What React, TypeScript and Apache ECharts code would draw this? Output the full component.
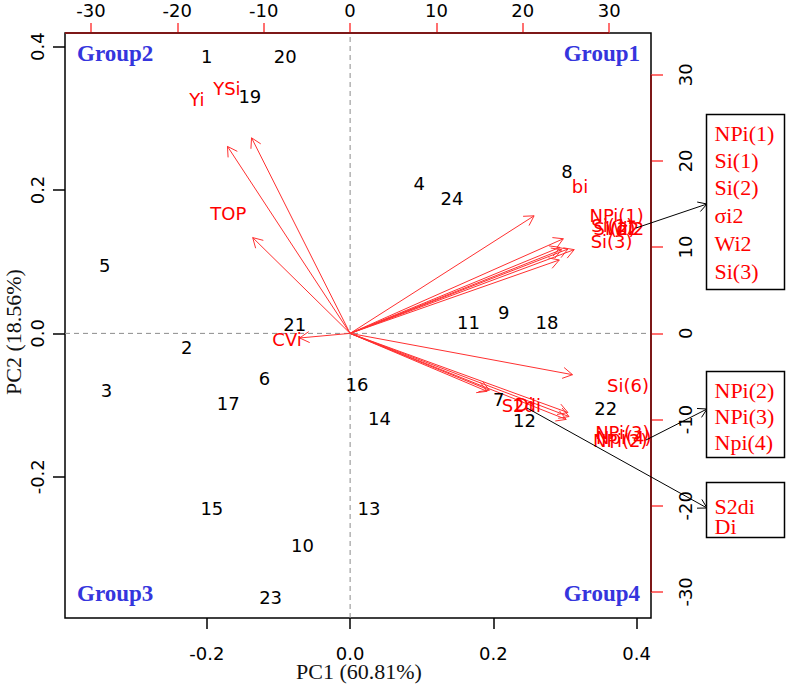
import React, { useEffect, useRef } from "react";
import * as echarts from "echarts";

// ---- Data ----
const sampleIds = ["1","2","3","4","5","6","7","8","9","10","11","12","13","14","15","16","17","18","19","20","21","22","23","24"];
const samplePC1 = [-16.6,-18.9,-28.2,8.0,-28.4,-9.9,17.2,25.1,17.8,-5.5,13.7,20.2,2.2,3.4,-16.0,0.8,-14.1,22.8,-11.6,-7.5,-6.4,29.6,-9.2,11.8];
const samplePC2 = [32.1,-1.6,-6.6,17.4,7.9,-5.2,-7.7,18.8,2.4,-24.6,1.2,-10.1,-20.3,-9.9,-20.3,-5.9,-8.2,1.2,27.5,32.1,1.0,-8.7,-30.6,15.6];

const varNames = ["Yi","YSi","TOP","CVi","bi","NPi(1)","Si(1)","Si(2)","σi2","Wi2","Si(3)","Si(6)","NPi(2)","NPi(3)","Npi(4)","S2di","Di"];
const varPC1 = [-0.214,-0.172,-0.170,-0.088,0.321,0.372,0.366,0.369,0.391,0.380,0.365,0.388,0.377,0.380,0.382,0.239,0.243];
const varPC2 = [0.326,0.341,0.167,-0.008,0.205,0.165,0.150,0.146,0.146,0.147,0.128,-0.072,-0.150,-0.138,-0.145,-0.101,-0.099];
const arrowScale = 0.8;

const bottomTicks = [-0.2, 0, 0.2, 0.4];
const leftTicks = [-0.2, 0, 0.2, 0.4];
const topTicks = [-30, -20, -10, 0, 10, 20, 30];
const rightTicks = [-30, -20, -10, 0, 10, 20, 30];

const xRange = [-0.398, 0.42];
const yRange = [-0.397, 0.419];
const x2Range = [-33.0, 34.84];
const y2Range = [-33.03, 34.84];

const xTitle = "PC1 (60.81%)";
const yTitle = "PC2 (18.56%)";
const groupLabels = ["Group1", "Group2", "Group3", "Group4"];
const box1Items = ["NPi(1)", "Si(1)", "Si(2)", "σi2", "Wi2", "Si(3)"];
const box2Items = ["NPi(2)", "NPi(3)", "Npi(4)"];
const box3Items = ["S2di", "Di"];

const SANS = "DejaVu Sans";
const SERIF = "Liberation Serif";
const RED = "#ff0000";
const ARROW_RED = "#ff3030";
const DARKRED = "#7d1818";

function arrowHead(tx: number, ty: number, ang: number, L: number) {
  const a = Math.PI / 6;
  return [
    [tx - L * Math.cos(ang - a), ty - L * Math.sin(ang - a)],
    [tx, ty],
    [tx - L * Math.cos(ang + a), ty - L * Math.sin(ang + a)],
  ];
}

function annArrow(x1: number, y1: number, x2: number, y2: number) {
  const ang = Math.atan2(y2 - y1, x2 - x1);
  return [
    { type: "line", shape: { x1, y1, x2, y2 }, style: { stroke: "#000", lineWidth: 1 }, z: 20 },
    { type: "polyline", shape: { points: arrowHead(x2, y2, ang, 10) }, style: { stroke: "#000", fill: "none", lineWidth: 1 }, z: 20 },
  ];
}

function boxGraphic(x: number, y: number, w: number, h: number, items: string[], ys: number[]) {
  const els: any[] = [
    { type: "rect", shape: { x, y, width: w, height: h }, style: { fill: "#fff", stroke: "#000", lineWidth: 1.5 }, z: 20 },
  ];
  items.forEach((t, i) => {
    els.push({
      type: "text", x: x + 8, y: ys[i], z: 21,
      style: { text: t, fill: RED, font: `22px "${SERIF}"`, textAlign: "left", textVerticalAlign: "middle" },
    });
  });
  return els;
}

export default function App() {
  const ref = useRef<HTMLDivElement>(null);
  useEffect(() => {
    document.body.style.margin = "0";
    if (!ref.current) return;
    const chart = echarts.init(ref.current, null, { renderer: "svg" });

    const sampleData = sampleIds.map((id, i) => [samplePC1[i], samplePC2[i], id]);
    const varData = varNames.map((n, i) => [varPC1[i], varPC2[i], n]);
    const arrowData = varNames.map((n, i) => [varPC1[i] * arrowScale, varPC2[i] * arrowScale, n]);

    const groupText = (text: string, x: number, y: number, align: string) => ({
      type: "text", x, y, z: 10,
      style: { text, fill: "#3535dd", font: `bold 23px "${SERIF}"`, textAlign: align, textVerticalAlign: "middle" },
    });

    const noLine = { show: false, onZero: false };

    const option: any = {
      animation: false,
      backgroundColor: "#fff",
      grid: {
        left: 65, top: 33, width: 586, height: 585, show: true, borderColor: "#000", borderWidth: 1.5,
        backgroundColor: "transparent", containLabel: false, outerBoundsMode: "none",
      },
      xAxis: [
        {
          type: "value", position: "bottom", min: xRange[0], max: xRange[1],
          axisLine: noLine, splitLine: { show: false },
          axisTick: { show: true, customValues: bottomTicks, length: 11, lineStyle: { color: "#000", width: 1.5 } },
          axisLabel: { customValues: bottomTicks, formatter: (v: number) => v.toFixed(1), color: "#000", fontSize: 18, fontFamily: SANS, margin: 26 },
        },
        {
          type: "value", position: "top", min: x2Range[0], max: x2Range[1],
          axisLine: noLine, splitLine: { show: false },
          axisTick: { show: true, customValues: topTicks, length: 10, lineStyle: { color: "#ff4040", width: 1.5 } },
          axisLabel: { customValues: topTicks, formatter: (v: number) => String(v), color: "#000", fontSize: 18, fontFamily: SANS, margin: 14 },
        },
      ],
      yAxis: [
        {
          type: "value", position: "left", min: yRange[0], max: yRange[1],
          axisLine: noLine, splitLine: { show: false },
          axisTick: { show: true, customValues: leftTicks, length: 12, lineStyle: { color: "#000", width: 1.5 } },
          axisLabel: { customValues: leftTicks, formatter: (v: number) => v.toFixed(1), color: "#000", fontSize: 18, fontFamily: SANS, margin: 19, rotate: 90 },
        },
        {
          type: "value", position: "right", min: y2Range[0], max: y2Range[1],
          axisLine: noLine, splitLine: { show: false },
          axisTick: { show: true, customValues: rightTicks, length: 12, lineStyle: { color: "#ff4040", width: 1.5 } },
          axisLabel: { customValues: rightTicks, formatter: (v: number) => String(v), color: "#000", fontSize: 18, fontFamily: SANS, margin: 25, rotate: 90 },
        },
      ],
      series: [
        {
          type: "line", xAxisIndex: 0, yAxisIndex: 0, symbol: "none", silent: true,
          data: [[0, yRange[0]], [0, yRange[1]]],
          lineStyle: { color: "#8c8c8c", width: 1, type: [5, 4] }, z: 1,
        },
        {
          type: "line", xAxisIndex: 0, yAxisIndex: 0, symbol: "none", silent: true,
          data: [[xRange[0], 0], [xRange[1], 0]],
          lineStyle: { color: "#8c8c8c", width: 1, type: [5, 4] }, z: 1,
        },
        {
          type: "line", xAxisIndex: 1, yAxisIndex: 1, symbol: "none", silent: true, clip: false,
          data: [[x2Range[0], y2Range[1]], [topTicks[topTicks.length - 1], y2Range[1]]],
          lineStyle: { color: DARKRED, width: 2 }, z: 3,
        },
        {
          type: "line", xAxisIndex: 1, yAxisIndex: 1, symbol: "none", silent: true, clip: false,
          data: [[x2Range[1], rightTicks[rightTicks.length - 1]], [x2Range[1], rightTicks[0]]],
          lineStyle: { color: DARKRED, width: 2 }, z: 3,
        },
        {
          type: "custom", xAxisIndex: 0, yAxisIndex: 0, clip: false, silent: true, z: 4,
          data: arrowData,
          encode: { x: 0, y: 1 },
          renderItem: (params: any, api: any) => {
            const o = api.coord([0, 0]);
            const t = api.coord([api.value(0), api.value(1)]);
            const ang = Math.atan2(t[1] - o[1], t[0] - o[0]);
            return {
              type: "group",
              children: [
                { type: "line", shape: { x1: o[0], y1: o[1], x2: t[0], y2: t[1] }, style: { stroke: ARROW_RED, lineWidth: 1 } },
                { type: "polyline", shape: { points: arrowHead(t[0], t[1], ang, 11) }, style: { stroke: ARROW_RED, fill: "none", lineWidth: 1 } },
              ],
            };
          },
        },
        {
          type: "custom", xAxisIndex: 0, yAxisIndex: 0, clip: false, silent: true, z: 5,
          data: varData,
          encode: { x: 0, y: 1 },
          renderItem: (params: any, api: any) => {
            const p = api.coord([api.value(0), api.value(1)]);
            return {
              type: "text", x: p[0], y: p[1],
              style: { text: varNames[params.dataIndex], fill: RED, font: `18px "${SANS}"`, textAlign: "center", textVerticalAlign: "middle" },
            };
          },
        },
        {
          type: "custom", xAxisIndex: 1, yAxisIndex: 1, clip: false, silent: true, z: 5,
          data: sampleData,
          encode: { x: 0, y: 1 },
          renderItem: (params: any, api: any) => {
            const p = api.coord([api.value(0), api.value(1)]);
            return {
              type: "text", x: p[0], y: p[1],
              style: { text: sampleIds[params.dataIndex], fill: "#000", font: `18px "${SANS}"`, textAlign: "center", textVerticalAlign: "middle" },
            };
          },
        },
      ],
      graphic: [
        {
          type: "text", x: 359, y: 671, z: 10,
          style: { text: xTitle, fill: "#111", font: `22px "${SERIF}"`, textAlign: "center", textVerticalAlign: "middle" },
        },
        {
          type: "text", x: 13, y: 332, rotation: Math.PI / 2, z: 10,
          style: { text: yTitle, fill: "#111", font: `22px "${SERIF}"`, textAlign: "center", textVerticalAlign: "middle" },
        },
        groupText(groupLabels[1], 77, 53, "left"),
        groupText(groupLabels[0], 640, 53, "right"),
        groupText(groupLabels[2], 77, 593, "left"),
        groupText(groupLabels[3], 640, 593, "right"),
        ...annArrow(636, 228, 707, 204),
        ...annArrow(646, 440, 707, 409),
        ...annArrow(527, 408, 707, 508),
        ...boxGraphic(706.5, 114.5, 78, 175, box1Items, [133, 160, 187, 215, 243, 271]),
        ...boxGraphic(706.5, 371.5, 78, 86, box2Items, [390, 416, 442]),
        ...boxGraphic(706.5, 482.5, 78, 55, box3Items, [506, 526]),
      ],
    };
    chart.setOption(option);
    return () => chart.dispose();
  }, []);
  return <div ref={ref} style={{ width: 786, height: 687 }} />;
}
